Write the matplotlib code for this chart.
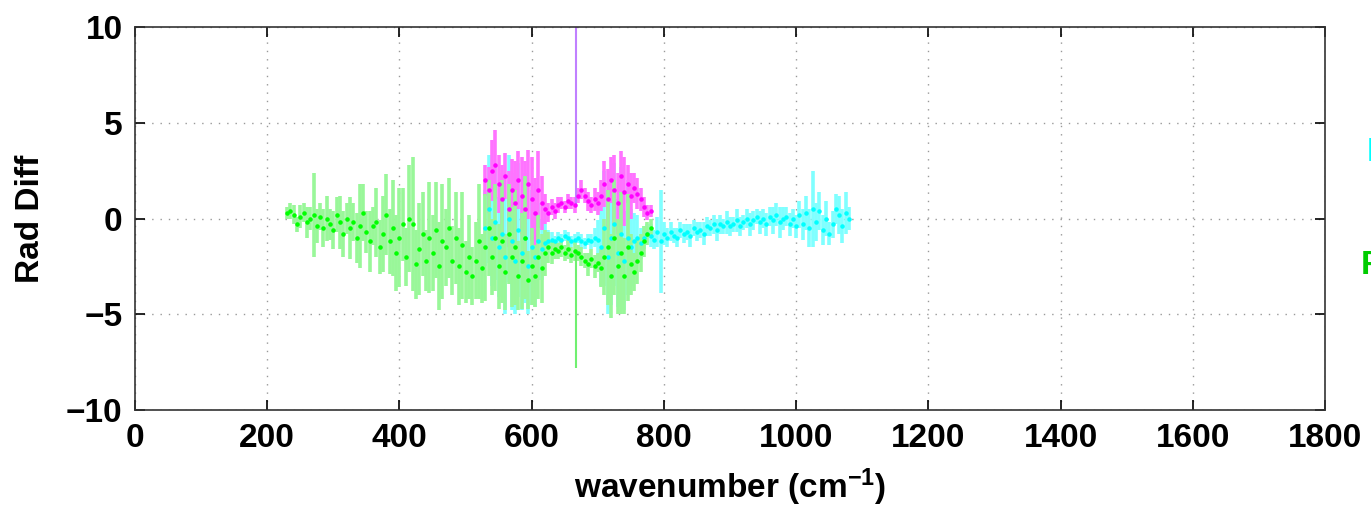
import matplotlib
matplotlib.use("Agg")
import matplotlib.pyplot as plt
import numpy as np

# wavenumber grids (cm-1)
green_x = np.arange(230, 781, 5)
cyan_x = np.arange(530, 1081, 5)
magenta_x = np.arange(530, 781, 5)

# green series: mean and spread
green_mean = [0.3, 0.4, 0.2, -0.3, 0.1, 0.3, -0.2, 0.0, 0.2, -0.4,
              0.1, -0.5, 0.0, -0.3, -0.6, 0.2, -0.2, -0.8, 0.0, -0.5,
              -0.2, -1.0, -0.4, 0.3, -0.7, -1.2, -0.4, -0.2, -1.5, -0.8,
              0.2, -1.2, -0.5, -1.8, -1.0, -0.3, -2.0, 0.0, -0.3, -2.4,
              -1.6, -0.8, -2.2, -1.0, -1.8, -0.6, -2.5, -1.2, -1.5, -0.5,
              -2.2, -1.0, -2.5, -1.4, -2.8, -2.0, -3.0, -2.2, -1.2, -2.6,
              -1.5, -0.5, -2.0, -1.0, -2.5, -1.2, -2.8, -0.8, -2.0, -1.5,
              -3.0, -2.2, -1.0, -3.2, -2.5, -3.0, -2.0, -2.6, -1.8, -1.5,
              -1.8, -1.6, -1.7, -1.5, -1.8, -1.6, -1.9, -1.7, -1.8, -2.0,
              -2.2, -2.4, -2.1, -2.5, -2.3, -2.6, -2.0, -1.5, -3.0, -1.0,
              -2.5, -1.8, -3.0, -1.5, -2.4, -2.8, -2.2, -1.8, -1.2, -0.8,
              -0.5]
green_err = [0.3, 0.4, 0.5, 0.4, 0.6, 0.5, 0.8, 0.6, 2.2, 0.9,
             0.7, 1.0, 1.2, 0.8, 1.0, 0.9, 1.4, 1.2, 0.8, 1.6,
             1.0, 1.3, 2.2, 1.5, 1.1, 1.6, 1.0, 1.8, 1.4, 2.0,
             2.1, 1.7, 2.5, 2.0, 2.6, 1.9, 1.5, 2.8, 3.5, 1.8,
             2.4, 2.2, 1.6, 2.9, 2.0, 2.5, 2.3, 3.0, 2.0, 2.6,
             1.8, 2.4, 2.0, 2.8, 1.6, 2.2, 1.5, 2.0, 3.0, 1.8,
             2.8, 2.5, 2.0, 2.8, 2.2, 3.2, 2.0, 2.6, 2.6, 3.0,
             1.8, 2.5, 3.2, 1.5, 2.0, 1.6, 2.2, 1.8, 1.2, 0.8,
             0.6, 0.5, 0.4, 0.5, 0.4, 0.5, 0.4, 0.5, 0.4, 0.5,
             0.4, 0.6, 0.5, 0.6, 0.5, 1.0, 2.0, 3.0, 2.2, 3.0,
             2.5, 3.2, 2.0, 2.8, 1.6, 1.0, 1.2, 1.0, 0.8, 0.6,
             0.5]

# cyan series
cyan_mean = [-0.5, 0.5, -1.0, -0.2, -1.5, -0.8, -2.0, 0.0, -1.2, -2.2,
             -0.6, -1.8, -1.0, -2.5, -1.5, -2.0, -1.2, -1.6, -1.3, -1.2,
             -1.1, -1.2, -1.0, -1.1, -0.9, -1.0, -1.2, -1.1, -1.0, -1.2,
             -1.3, -1.1, -1.2, -1.0, -1.1, -1.5, -0.5, -2.0, -1.0, -0.3,
             -1.8, -0.8, -2.2, -1.0, -1.5, -1.2, -1.0, -1.3, -1.0, -0.8,
             -0.9, -1.1, -0.7, -1.2, -0.8, -1.0, -0.7, -0.9, -1.0, -0.6,
             -0.8, -0.7, -0.9, -0.5, -0.7, -0.6, -0.8, -0.4, -0.5, -0.3,
             -0.6, -0.3, -0.4, -0.2, -0.4, -0.3, -0.1, -0.4, -0.2, 0.0,
             -0.3, -0.1, 0.1, -0.2, 0.0, -0.3, 0.1, -0.1, 0.2, -0.2,
             0.0, 0.1, -0.3, 0.0, -0.4, 0.2, -0.3, 0.3, -0.5, 0.5,
             -0.2, 0.4, -0.6, 0.0, -0.8, -0.3, 0.5, 0.2, -0.4, 0.3,
             0.0]
cyan_err = [2.0, 2.8, 2.5, 3.0, 2.6, 3.2, 3.0, 3.3, 3.6, 2.8,
            3.5, 3.0, 3.4, 2.5, 3.0, 2.6, 2.0, 1.6, 1.0, 0.6,
            0.4, 0.3, 0.3, 0.3, 0.3, 0.3, 0.3, 0.3, 0.3, 0.4,
            0.3, 0.3, 0.4, 0.5, 1.0, 2.0, 3.0, 3.0, 3.5, 3.2,
            2.8, 3.5, 2.6, 3.0, 2.0, 1.5, 1.2, 0.8, 0.6, 0.5,
            0.6, 0.5, 0.8, 2.7, 0.6, 0.5, 0.5, 0.4, 0.5, 0.4,
            0.5, 0.4, 0.6, 0.4, 0.5, 0.4, 0.6, 0.5, 0.4, 0.5,
            0.6, 0.5, 0.4, 0.6, 0.5, 0.4, 0.6, 0.5, 0.4, 0.5,
            0.6, 0.5, 0.4, 0.6, 0.5, 0.6, 0.5, 0.7, 0.6, 0.8,
            0.6, 0.5, 0.6, 0.5, 0.6, 0.7, 0.8, 0.9, 1.0, 2.0,
            1.0, 1.0, 0.8, 0.9, 0.6, 0.7, 0.8, 1.0, 0.9, 1.1,
            0.6]

# magenta series
magenta_mean = [2.0, 1.5, 2.5, 2.8, 1.8, 1.0, 2.2, 0.5, 1.5, 0.8,
                2.0, 1.2, 0.5, 1.8, 1.0, 0.3, 1.5, 0.8, 0.5, 0.3,
                0.6, 0.4, 0.7, 0.8, 0.6, 0.9, 0.8, 0.7, 1.2, 1.5,
                1.2, 0.9, 0.7, 1.0, 0.8, 1.2, 1.8, 1.0, 2.0, 1.5,
                0.8, 2.2, 1.4, 1.8, 1.2, 1.6, 1.3, 1.0, 0.6, 0.3,
                0.4]
magenta_err = [0.8, 1.2, 1.6, 1.8, 1.5, 1.8, 1.2, 2.0, 1.6, 2.2,
               1.5, 2.0, 2.5, 1.8, 2.2, 1.8, 2.0, 1.4, 0.8, 0.5,
               0.4, 0.4, 0.4, 0.3, 0.3, 0.4, 0.3, 0.4, 0.4, 0.5,
               0.4, 0.5, 0.4, 0.6, 0.6, 0.8, 1.2, 1.6, 1.2, 1.8,
               1.6, 1.3, 1.8, 1.0, 1.2, 0.8, 0.8, 0.6, 0.5, 0.4,
               0.3]

# single-channel spike near 667 cm-1
spike_x = [667]
spike_top = [12.0]
spike_bottom = [-7.8]
spike_mid_m = [0.7]
spike_mid_g = [-1.8]

FONT = "Liberation Sans"
FS = 24
plt.rcParams['mathtext.default'] = 'regular'

fig = plt.figure(figsize=(13.71, 5.16), dpi=100)
ax = fig.add_axes([0.0985, 0.2054, 0.868, 0.7423])

ax.errorbar(cyan_x, cyan_mean, yerr=cyan_err, fmt='.', color='#00ffff',
            ecolor=(0.5, 1.0, 1.0), elinewidth=2.6, ms=4.5)
ax.errorbar(magenta_x, magenta_mean, yerr=magenta_err, fmt='.', color='#ff00ff',
            ecolor=(1.0, 0.45, 1.0), elinewidth=2.6, ms=4.5)
ax.errorbar(green_x, green_mean, yerr=green_err, fmt='.', color='#00ff00',
            ecolor=(0.6, 0.97, 0.6), elinewidth=2.6, ms=4.5)

ax.vlines(spike_x, spike_mid_m, spike_top, color='#c080ff', lw=1.5)
ax.vlines(spike_x, spike_bottom, spike_mid_g, color='#70f070', lw=1.5)

ax.set_xlim(0, 1800)
ax.set_ylim(-10, 10)
ax.set_xticks(np.arange(0, 1801, 200))
ax.set_yticks([-10, -5, 0, 5, 10])
ax.grid(True, linestyle=(0, (1, 5)), color='#999999', lw=1.0)
ax.tick_params(direction='in', top=True, right=True, length=7, width=1.2,
               labelsize=FS, pad=9)
for lab in ax.get_xticklabels() + ax.get_yticklabels():
    lab.set_fontfamily(FONT)
    lab.set_fontweight('bold')
for s in ax.spines.values():
    s.set_linewidth(1.2)
    s.set_color('#333333')

ax.set_xlabel('wavenumber (cm$^{-1}$)', fontsize=FS, fontweight='bold',
              fontfamily=FONT, labelpad=9)
ax.set_ylabel('Rad Diff', fontsize=FS, fontweight='bold', fontfamily=FONT,
              labelpad=14)

# legend labels running off the right edge
fig.text(1367 / 1371, 1 - 152 / 516, 'IASI', color='#00ffff', fontsize=FS,
         fontweight='bold', fontfamily=FONT, va='center', ha='left')
fig.text(1361 / 1371, 1 - 266 / 516, 'FIRST', color='#00cc00', fontsize=FS,
         fontweight='bold', fontfamily=FONT, va='center', ha='left')

fig.savefig('out.png', dpi=100)
